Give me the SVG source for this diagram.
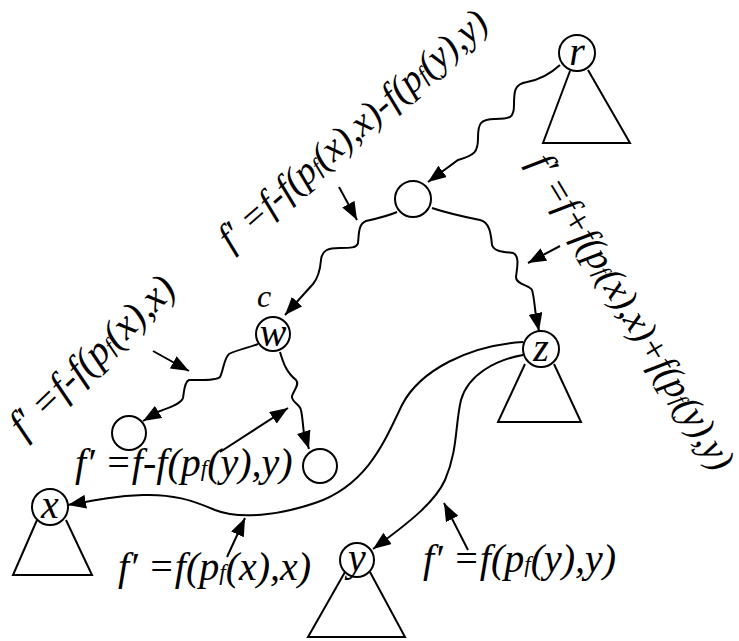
<svg xmlns="http://www.w3.org/2000/svg" width="739" height="641" viewBox="0 0 739 641">
<style>
.n{fill:#fff;stroke:#000;stroke-width:2}
.t{fill:none;stroke:#000;stroke-width:2;stroke-linejoin:miter}
.e{fill:none;stroke:#000;stroke-width:2}
.a{marker-end:url(#ah)}
text{font-family:"Liberation Serif","Times New Roman",serif;font-style:italic;fill:#000}
.lb{font-size:40px}
.lr{font-size:38px}
.nl{font-size:40px;text-anchor:middle}
.s{font-size:23px}
</style>
<defs>
<marker id="ah" markerUnits="userSpaceOnUse" markerWidth="20" markerHeight="14" refX="18" refY="7" orient="auto">
<path d="M0,0 L18,7 L0,14 Z" fill="#000"/>
</marker>
</defs>
<rect width="739" height="641" fill="#fff"/>
<g id="connectors">
<path class="e a" d="M560,65 C548,76 538,80 527,82 C514,84 514,92 514,105 C514,118 510,119 495,119 C480,119 478,124 478,138 C478,152 475,155 458,160 L428,182"/>
<path class="e a" d="M397,212 C388,216 375,219 366,221 C358,224 359,235 358,243 C357,248 350,248 340,248 C328,248 322,250 321,260 C320,272 318,278 313,284 L285,315"/>
<path class="e a" d="M432,208 C450,214 470,218 480,220 C490,222 491,235 492,245 C494,252 505,252 513,253 C520,256 517,268 516,277 C516,285 530,285 532,290 C534,296 535,310 536,316 L539,331"/>
<path class="e a" d="M258,344 C248,348 236,350 229,354 C224,358 223,372 220,377 C216,381 200,380 189,380 C184,382 184,393 183,398 C181,404 168,408 160,411 L143,421"/>
<path class="e a" d="M280,352 C283,362 286,372 296,380 C300,384 294,390 292,396 C291,402 300,404 301,410 C303,420 303,428 304,433 L309,449"/>
<path class="e a" d="M523,342 C470,345 420,370 402,405 C385,440 368,485 315,503 C280,515 240,520 215,510 C192,500 172,494 143,495 C115,496 95,500 68,505"/>
<path class="e a" d="M523,355 C495,360 468,375 461,400 C455,425 458,450 445,480 C435,502 410,522 373,549"/>
<path class="e a" d="M339,187 L357,220"/>
<path class="e a" d="M560,246 L528,263"/>
<path class="e a" d="M153,351 L189,371"/>
<path class="e a" d="M220,452 L288,408"/>
<path class="e a" d="M227,557 L245,518"/>
<path class="e a" d="M468,550 L444,503"/>
</g>
<g id="node-r">
<path class="t" d="M570,71 L543,143 L630,143 L588,70"/>
<circle class="n" cx="577" cy="53" r="18"/>
<text class="nl" x="577" y="65">r</text>
</g>
<g id="node-m">
<circle class="n" cx="413" cy="199" r="18"/>
</g>
<g id="node-w">
<circle class="n" cx="273" cy="334" r="17"/>
<text class="nl" x="273" y="346">w</text>
<text x="264" y="307" style="font-size:32px;text-anchor:middle">c</text>
</g>
<g id="node-l">
<circle class="n" cx="129" cy="433" r="17"/>
</g>
<g id="node-rc">
<circle class="n" cx="320" cy="466" r="17"/>
</g>
<g id="node-z">
<path class="t" d="M525,364 L498,422 L581,422 L554,364"/>
<circle class="n" cx="541" cy="349" r="18"/>
<text class="nl" x="541" y="361">z</text>
</g>
<g id="node-x">
<path class="t" d="M37,520 L13,575 L92,575 L66,520"/>
<circle class="n" cx="50" cy="507" r="18"/>
<text class="nl" x="50" y="518">x</text>
</g>
<g id="node-y">
<path class="t" d="M345,572 L308,637 L405,637 L370,572"/>
<circle class="n" cx="357" cy="560" r="17"/>
<text class="nl" x="357" y="571">y</text>
</g>
<g id="labels">
<text class="lr" transform="translate(231,252) rotate(-41)" textLength="344">f′ =f-f(p<tspan class="s">f</tspan>(x),x)-f(p<tspan class="s">f</tspan>(y),y)</text>
<text class="lr" transform="translate(528,163) rotate(59)" textLength="362">f′ =f+f(p<tspan class="s">f</tspan>(x),x)+f(p<tspan class="s">f</tspan>(y),y)</text>
<text class="lb" transform="translate(24,440) rotate(-44)" textLength="214">f′ =f-f(p<tspan class="s">f</tspan>(x),x)</text>
<text class="lb" x="75" y="476">f′ =f-f(p<tspan class="s">f</tspan>(y),y)</text>
<text class="lb" x="118" y="580">f′ =f(p<tspan class="s">f</tspan>(x),x)</text>
<text class="lb" x="423" y="572">f′ =f(p<tspan class="s">f</tspan>(y),y)</text>
</g>
</svg>
